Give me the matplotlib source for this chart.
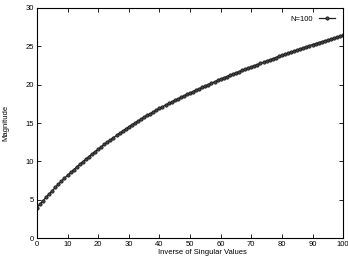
import matplotlib
matplotlib.use("Agg")
from matplotlib import pyplot as plt

x = list(range(101))
magnitude = [
    4.00, 4.46, 4.91, 5.35, 5.78, 6.20, 6.62, 7.03, 7.43, 7.82, 8.20,
    8.57, 8.93, 9.28, 9.63, 9.97, 10.31, 10.64, 10.97, 11.29, 11.60,
    11.91, 12.21, 12.51, 12.80, 13.09, 13.38, 13.66, 13.94, 14.22, 14.50,
    14.76, 15.01, 15.26, 15.50, 15.74, 15.98, 16.21, 16.44, 16.67, 16.90,
    17.12, 17.33, 17.54, 17.74, 17.94, 18.14, 18.34, 18.53, 18.72, 18.90,
    19.09, 19.28, 19.46, 19.64, 19.82, 20.00, 20.18, 20.36, 20.53, 20.70,
    20.87, 21.04, 21.20, 21.36, 21.52, 21.68, 21.84, 22.00, 22.15, 22.30,
    22.45, 22.60, 22.75, 22.90, 23.05, 23.20, 23.35, 23.50, 23.65, 23.80,
    23.94, 24.08, 24.22, 24.36, 24.50, 24.64, 24.78, 24.92, 25.06, 25.20,
    25.32, 25.44, 25.56, 25.68, 25.80, 25.92, 26.04, 26.16, 26.28, 26.40,
]
x_ticks = [0, 10, 20, 30, 40, 50, 60, 70, 80, 90, 100]
y_ticks = [0, 5, 10, 15, 20, 25, 30]

plt.rcParams['font.family'] = ['Liberation Sans', 'DejaVu Sans']
plt.rcParams['font.size'] = 5.5

fig = plt.figure(figsize=(3.48, 2.62), dpi=100)
ax = fig.add_axes([0.106, 0.09, 0.88, 0.881])

ax.plot(x, magnitude, color='#222222', linewidth=0.9, marker='o',
        markersize=2.4, markerfacecolor='#444444', markeredgecolor='#111111',
        markeredgewidth=0.5, label='N=100')

ax.set_xlim(0, 100)
ax.set_ylim(0, 30)
ax.set_xticks(x_ticks)
ax.set_yticks(y_ticks)
ax.tick_params(direction='in', length=3, width=0.6, top=True, right=True,
               pad=2, labelsize=5.5)
for s in ax.spines.values():
    s.set_linewidth(0.8)

ax.set_xlabel('Inverse of Singular Values', fontsize=5.5, labelpad=0)
ax.xaxis.set_label_coords(0.54, -0.045)
ax.set_ylabel('Magnitude', fontsize=5.5, labelpad=12)

leg = ax.legend(loc='upper right', frameon=False, markerfirst=False,
                numpoints=1, handlelength=2.2, fontsize=5.5,
                borderaxespad=0.6)

fig.savefig('out.png', dpi=100)
